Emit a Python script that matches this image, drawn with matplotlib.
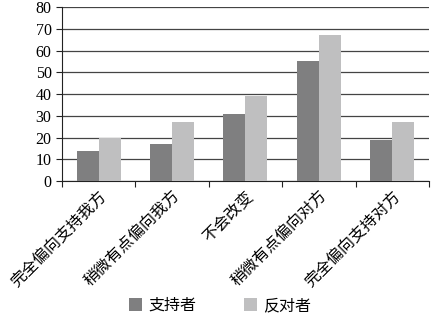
import matplotlib
matplotlib.use("Agg")
import matplotlib.pyplot as plt
import numpy as np

categories = ["完全偏向支持我方", "稍微有点偏向我方", "不会改变", "稍微有点偏向对方", "完全偏向支持对方"]
supporters = [14, 17, 31, 55, 19]
opponents = [20, 27, 39, 67, 27]
series_names = ["支持者", "反对者"]

cjk = ["Noto Sans CJK SC", "DejaVu Sans"]

fig = plt.figure(figsize=(4.41, 3.22), dpi=100)
ax = fig.add_axes([0.1406, 0.4379, 0.832, 0.54])

x = np.arange(len(categories))
w = 0.3
ax.bar(x - w/2, supporters, w, color="#7f7f80", label=series_names[0], zorder=3)
ax.bar(x + w/2, opponents, w, color="#bfbfc0", label=series_names[1], zorder=3)

ax.set_xlim(-0.5, len(categories) - 0.5)
ax.set_ylim(0, 80)
ax.set_yticks(range(0, 81, 10))
ax.yaxis.grid(True, color="#444444", linewidth=0.9, zorder=0)
ax.set_axisbelow(True)
for s in ["top", "right"]:
    ax.spines[s].set_visible(False)
ax.spines["left"].set_color("#222222")
ax.spines["bottom"].set_color("#222222")
ax.tick_params(axis="y", length=4, color="#222222", labelsize=11.5)
for lab in ax.get_yticklabels():
    lab.set_fontfamily("Liberation Serif")

ax.set_xticks(np.arange(-0.5, len(categories), 1.0))
ax.set_xticklabels([])
ax.tick_params(axis="x", length=4, color="#222222")
ax.set_xticks(x, minor=True)
ax.set_xticklabels(categories, minor=True, rotation=45, ha="right", va="top",
                   rotation_mode="anchor", fontsize=11.5, family=cjk)
ax.tick_params(axis="x", which="minor", length=0, pad=5)

fig.legend(loc="lower center", bbox_to_anchor=(0.5, -0.02), ncol=2, frameon=False,
           prop={"family": cjk, "size": 11.5}, handlelength=0.8, handleheight=0.8,
           columnspacing=3.0, handletextpad=0.4)

fig.savefig("out.png", dpi=100)
